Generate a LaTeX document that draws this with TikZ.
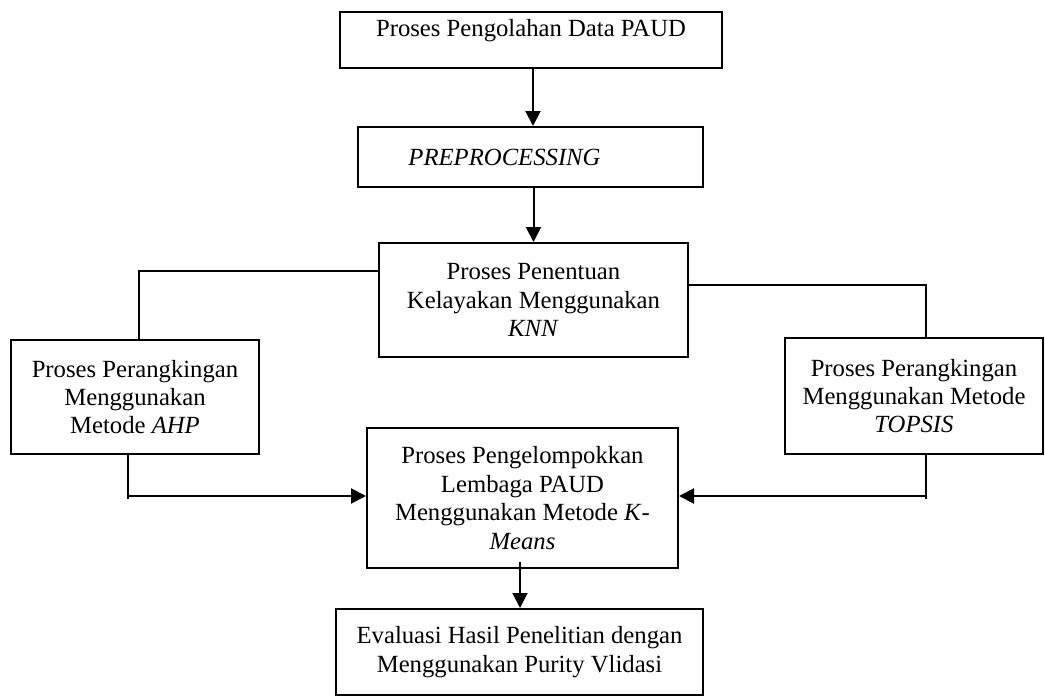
\documentclass[tikz,border=0pt]{standalone}
\usepackage{fontspec}
\setmainfont{Liberation Serif}
\usetikzlibrary{arrows.meta,calc}
\begin{document}
\begin{tikzpicture}[x=0.5pt,y=-0.5pt,
  box/.style={draw,line width=1pt,inner sep=0pt,align=center,
    font=\fontsize{12.35}{14.2}\selectfont},
  conn/.style={line width=1pt},
  arr/.style={line width=1pt,-{Triangle[length=7.5pt,width=7.5pt]}}]
\useasboundingbox (0,0) rectangle (1045,696);
\fill[white] (0,0) rectangle (1045,696);
\node[box,minimum width=191pt,minimum height=28pt,text depth=12.4pt] (top) at (531,40) {Proses Pengolahan Data PAUD};
\node[box,minimum width=172.5pt,minimum height=30pt] (prep) at (530.5,157) {\textit{PREPROCESSING}\hspace*{26pt}};
\node[box,minimum width=154.5pt,minimum height=57pt] (knn) at (533.5,300) {Proses Penentuan\\Kelayakan Menggunakan\\\textit{KNN}};
\node[box,minimum width=124pt,minimum height=57pt] (ahp) at (135,397) {Proses Perangkingan\\Menggunakan\\Metode \textit{AHP}};
\node[box,minimum width=129pt,minimum height=58pt] (topsis) at (914,396) {Proses Perangkingan\\Menggunakan Metode\\\textit{TOPSIS}};
\node[box,minimum width=155.5pt,minimum height=70pt] (km) at (522.5,498) {Proses Pengelompokkan\\Lembaga PAUD\\Menggunakan Metode \textit{K}-\\\textit{Means}};
\node[box,minimum width=183.5pt,minimum height=43pt] (eval) at (519.5,652) {Evaluasi Hasil Penelitian dengan\\Menggunakan Purity Vlidasi};
% connectors
\draw[arr] ($(top.south)+(2,0)$) -- ($(prep.north)+(2.5,0)$);
\draw[arr] (prep.south -| knn.north) -- (knn.north);
\draw[conn] ($(knn.north west)+(0,29)$) -| ($(ahp.north)+(4,0)$);
\draw[conn] ($(knn.north east)+(0,43)$) -| ($(topsis.north)+(12,0)$);
\draw[conn] ($(ahp.south)+(-7,-2)$) -- ($(ahp.south)+(-7,44)$);
\draw[arr] ($(ahp.south)+(-7,41)$) -- ($(km.west)+(0,-2)$);
\draw[conn] ($(topsis.south)+(12,0)$) -- ($(topsis.south)+(12,44)$);
\draw[arr] ($(topsis.south)+(12,41)$) -- ($(km.east)+(0,-2)$);
\draw[arr] ($(km.south)+(-2.5,-7)$) -- ($(eval.north)+(0.5,0)$);
\end{tikzpicture}
\end{document}
